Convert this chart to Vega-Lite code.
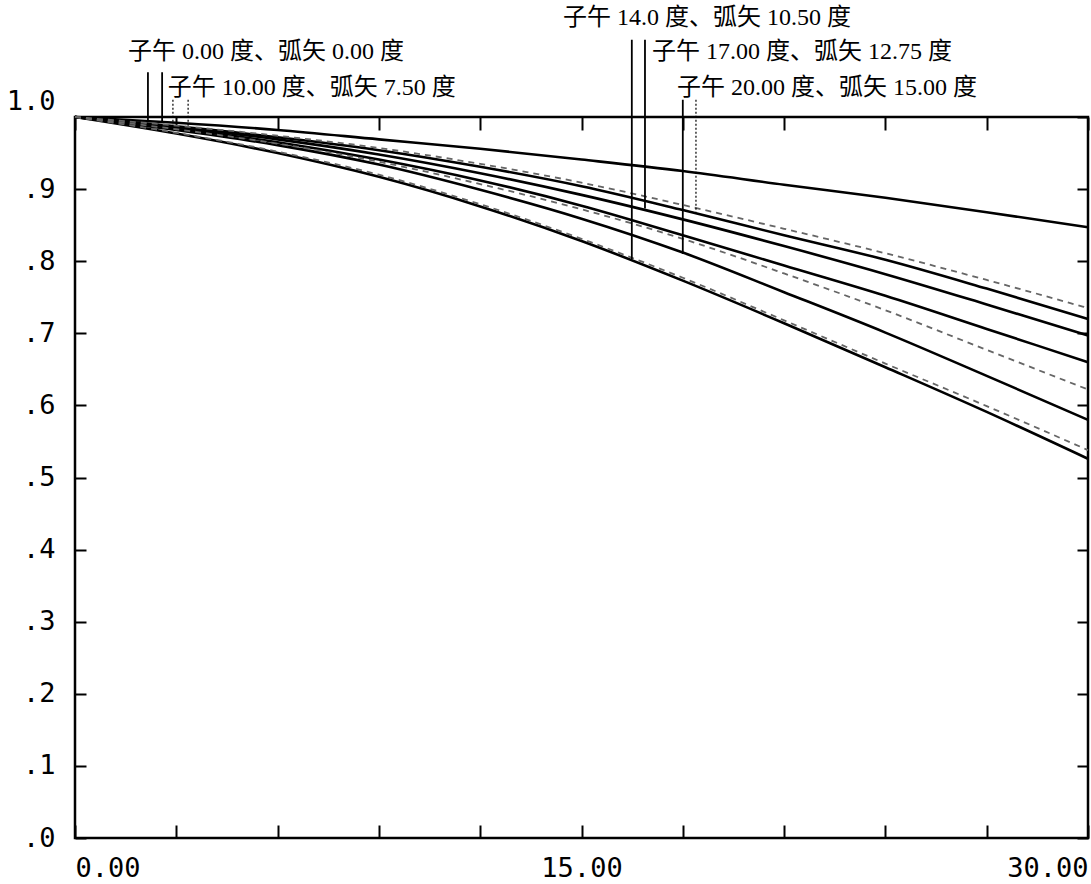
{
  "$schema": "https://vega.github.io/schema/vega-lite/v6.json",
  "width": 1013,
  "height": 721,
  "autosize": "none",
  "padding": {"left": 75, "top": 117, "right": 3, "bottom": 46},
  "background": "white",
  "config": {
    "view": {"stroke": "black", "strokeWidth": 2.5},
    "axis": {"grid": false, "domain": false, "tickColor": "black", "tickWidth": 2, "labelColor": "black", "labelFont": "DejaVu Sans Mono", "labelFontSize": 27}
  },
  "datasets": {
    "curves": [
      {"f":0,"m":1.0,"c":"A","s":"solid"},{"f":3,"m":0.992,"c":"A","s":"solid"},{"f":6,"m":0.982,"c":"A","s":"solid"},{"f":9,"m":0.969,"c":"A","s":"solid"},{"f":12,"m":0.956,"c":"A","s":"solid"},{"f":15,"m":0.941,"c":"A","s":"solid"},{"f":18,"m":0.925,"c":"A","s":"solid"},{"f":21,"m":0.906,"c":"A","s":"solid"},{"f":24,"m":0.888,"c":"A","s":"solid"},{"f":27,"m":0.868,"c":"A","s":"solid"},{"f":30,"m":0.847,"c":"A","s":"solid"},
      {"f":0,"m":1.0,"c":"B","s":"dotted"},{"f":3,"m":0.988,"c":"B","s":"dotted"},{"f":6,"m":0.974,"c":"B","s":"dotted"},{"f":9,"m":0.957,"c":"B","s":"dotted"},{"f":12,"m":0.935,"c":"B","s":"dotted"},{"f":15,"m":0.909,"c":"B","s":"dotted"},{"f":18,"m":0.878,"c":"B","s":"dotted"},{"f":21,"m":0.845,"c":"B","s":"dotted"},{"f":24,"m":0.811,"c":"B","s":"dotted"},{"f":27,"m":0.774,"c":"B","s":"dotted"},{"f":30,"m":0.735,"c":"B","s":"dotted"},
      {"f":0,"m":1.0,"c":"C","s":"solid"},{"f":3,"m":0.987,"c":"C","s":"solid"},{"f":6,"m":0.972,"c":"C","s":"solid"},{"f":9,"m":0.954,"c":"C","s":"solid"},{"f":12,"m":0.931,"c":"C","s":"solid"},{"f":15,"m":0.904,"c":"C","s":"solid"},{"f":18,"m":0.871,"c":"C","s":"solid"},{"f":21,"m":0.836,"c":"C","s":"solid"},{"f":24,"m":0.802,"c":"C","s":"solid"},{"f":27,"m":0.762,"c":"C","s":"solid"},{"f":30,"m":0.720,"c":"C","s":"solid"},
      {"f":0,"m":1.0,"c":"D","s":"solid"},{"f":3,"m":0.986,"c":"D","s":"solid"},{"f":6,"m":0.969,"c":"D","s":"solid"},{"f":9,"m":0.948,"c":"D","s":"solid"},{"f":12,"m":0.922,"c":"D","s":"solid"},{"f":15,"m":0.892,"c":"D","s":"solid"},{"f":18,"m":0.858,"c":"D","s":"solid"},{"f":21,"m":0.821,"c":"D","s":"solid"},{"f":24,"m":0.782,"c":"D","s":"solid"},{"f":27,"m":0.740,"c":"D","s":"solid"},{"f":30,"m":0.697,"c":"D","s":"solid"},
      {"f":0,"m":1.0,"c":"E","s":"solid"},{"f":3,"m":0.984,"c":"E","s":"solid"},{"f":6,"m":0.965,"c":"E","s":"solid"},{"f":9,"m":0.941,"c":"E","s":"solid"},{"f":12,"m":0.912,"c":"E","s":"solid"},{"f":15,"m":0.877,"c":"E","s":"solid"},{"f":18,"m":0.836,"c":"E","s":"solid"},{"f":21,"m":0.794,"c":"E","s":"solid"},{"f":24,"m":0.752,"c":"E","s":"solid"},{"f":27,"m":0.706,"c":"E","s":"solid"},{"f":30,"m":0.660,"c":"E","s":"solid"},
      {"f":0,"m":1.0,"c":"F","s":"dotted"},{"f":3,"m":0.983,"c":"F","s":"dotted"},{"f":6,"m":0.963,"c":"F","s":"dotted"},{"f":9,"m":0.938,"c":"F","s":"dotted"},{"f":12,"m":0.907,"c":"F","s":"dotted"},{"f":15,"m":0.872,"c":"F","s":"dotted"},{"f":18,"m":0.831,"c":"F","s":"dotted"},{"f":21,"m":0.783,"c":"F","s":"dotted"},{"f":24,"m":0.732,"c":"F","s":"dotted"},{"f":27,"m":0.677,"c":"F","s":"dotted"},{"f":30,"m":0.622,"c":"F","s":"dotted"},
      {"f":0,"m":1.0,"c":"G","s":"solid"},{"f":3,"m":0.982,"c":"G","s":"solid"},{"f":6,"m":0.961,"c":"G","s":"solid"},{"f":9,"m":0.934,"c":"G","s":"solid"},{"f":12,"m":0.899,"c":"G","s":"solid"},{"f":15,"m":0.859,"c":"G","s":"solid"},{"f":18,"m":0.812,"c":"G","s":"solid"},{"f":21,"m":0.757,"c":"G","s":"solid"},{"f":24,"m":0.701,"c":"G","s":"solid"},{"f":27,"m":0.641,"c":"G","s":"solid"},{"f":30,"m":0.580,"c":"G","s":"solid"},
      {"f":0,"m":1.0,"c":"H","s":"dotted"},{"f":3,"m":0.978,"c":"H","s":"dotted"},{"f":6,"m":0.952,"c":"H","s":"dotted"},{"f":9,"m":0.920,"c":"H","s":"dotted"},{"f":12,"m":0.879,"c":"H","s":"dotted"},{"f":15,"m":0.831,"c":"H","s":"dotted"},{"f":18,"m":0.777,"c":"H","s":"dotted"},{"f":21,"m":0.718,"c":"H","s":"dotted"},{"f":24,"m":0.658,"c":"H","s":"dotted"},{"f":27,"m":0.599,"c":"H","s":"dotted"},{"f":30,"m":0.538,"c":"H","s":"dotted"},
      {"f":0,"m":1.0,"c":"I","s":"solid"},{"f":3,"m":0.977,"c":"I","s":"solid"},{"f":6,"m":0.950,"c":"I","s":"solid"},{"f":9,"m":0.917,"c":"I","s":"solid"},{"f":12,"m":0.876,"c":"I","s":"solid"},{"f":15,"m":0.828,"c":"I","s":"solid"},{"f":18,"m":0.773,"c":"I","s":"solid"},{"f":21,"m":0.714,"c":"I","s":"solid"},{"f":24,"m":0.653,"c":"I","s":"solid"},{"f":27,"m":0.591,"c":"I","s":"solid"},{"f":30,"m":0.526,"c":"I","s":"solid"}
    ],
    "leaders": [
      {"x":2.16,"y":1.062,"y2":0.995,"s":"solid"},
      {"x":2.58,"y":1.062,"y2":0.993,"s":"solid"},
      {"x":2.90,"y":1.024,"y2":0.99,"s":"dotted"},
      {"x":3.35,"y":1.024,"y2":0.987,"s":"dotted"},
      {"x":16.49,"y":1.107,"y2":0.803,"s":"solid"},
      {"x":16.88,"y":1.107,"y2":0.873,"s":"solid"},
      {"x":18.0,"y":1.024,"y2":0.81,"s":"solid"},
      {"x":18.39,"y":1.024,"y2":0.868,"s":"dotted"}
    ],
    "labels": [
      {"x":1.57,"y":1.09,"t":"子午 0.00 度、弧矢 0.00 度"},
      {"x":2.75,"y":1.04,"t":"子午 10.00 度、弧矢 7.50 度"},
      {"x":14.45,"y":1.137,"t":"子午 14.0 度、弧矢 10.50 度"},
      {"x":17.09,"y":1.09,"t":"子午 17.00 度、弧矢 12.75 度"},
      {"x":17.83,"y":1.04,"t":"子午 20.00 度、弧矢 15.00 度"}
    ]
  },
  "resolve": {"axis": {"x": "independent", "y": "independent"}},
  "layer": [
    {
      "data": {"name": "curves"},
      "transform": [{"filter": "datum.s == 'solid'"}],
      "mark": {"type": "line", "interpolate": "monotone", "color": "black", "strokeWidth": 2.6},
      "encoding": {
        "x": {"field": "f", "type": "quantitative", "scale": {"domain": [0, 30], "nice": false, "zero": false},
          "axis": {"orient": "bottom", "values": [0,3,6,9,12,15,18,21,24,27,30], "tickSize": -13, "labelPadding": 30, "labelBaseline": "top", "labelFlush": true, "labelOverlap": false,
            "labelExpr": "datum.value % 15 == 0 ? format(datum.value, '.2f') : ''", "title": null}},
        "y": {"field": "m", "type": "quantitative", "scale": {"domain": [0, 1], "nice": false},
          "axis": {"orient": "left", "values": [0,0.1,0.2,0.3,0.4,0.5,0.6,0.7,0.8,0.9,1.0], "tickSize": -11, "labelPadding": 31, "labelOverlap": false,
            "labelOffset": {"condition": {"test": "datum.value == 1", "value": -16}, "value": 0},
            "labelExpr": "datum.value == 1 ? '1.0' : replace(format(datum.value, '.1f'), '0.', '.')", "title": null}},
        "detail": {"field": "c"}
      }
    },
    {
      "data": {"name": "curves"},
      "transform": [{"filter": "datum.s == 'dotted'"}],
      "mark": {"type": "line", "interpolate": "monotone", "color": "#666666", "strokeWidth": 1.8, "strokeDash": [6, 5]},
      "encoding": {
        "x": {"field": "f", "type": "quantitative", "axis": null},
        "y": {"field": "m", "type": "quantitative", "axis": null},
        "detail": {"field": "c"}
      }
    },
    {
      "data": {"name": "leaders"},
      "mark": {"type": "rule", "color": "black"},
      "encoding": {
        "x": {"field": "x", "type": "quantitative",
          "axis": {"orient": "top", "values": [0,3,6,9,12,15,18,21,24,27,30], "tickSize": -13, "labels": false, "title": null}},
        "y": {"field": "y", "type": "quantitative",
          "axis": {"orient": "right", "values": [0,0.1,0.2,0.3,0.4,0.5,0.6,0.7,0.8,0.9,1.0], "tickSize": -11, "labels": false, "title": null}},
        "y2": {"field": "y2"},
        "strokeDash": {"field": "s", "type": "nominal", "scale": {"domain": ["solid", "dotted"], "range": [[1, 0], [2, 2]]}, "legend": null},
        "strokeWidth": {"field": "s", "type": "nominal", "scale": {"domain": ["solid", "dotted"], "range": [1.8, 1.2]}, "legend": null}
      }
    },
    {
      "data": {"name": "labels"},
      "mark": {"type": "text", "align": "left", "baseline": "middle", "font": "Liberation Serif, Noto Sans CJK SC", "fontSize": 24, "color": "black"},
      "encoding": {
        "x": {"field": "x", "type": "quantitative", "axis": null},
        "y": {"field": "y", "type": "quantitative", "axis": null},
        "text": {"field": "t"}
      }
    }
  ]
}
